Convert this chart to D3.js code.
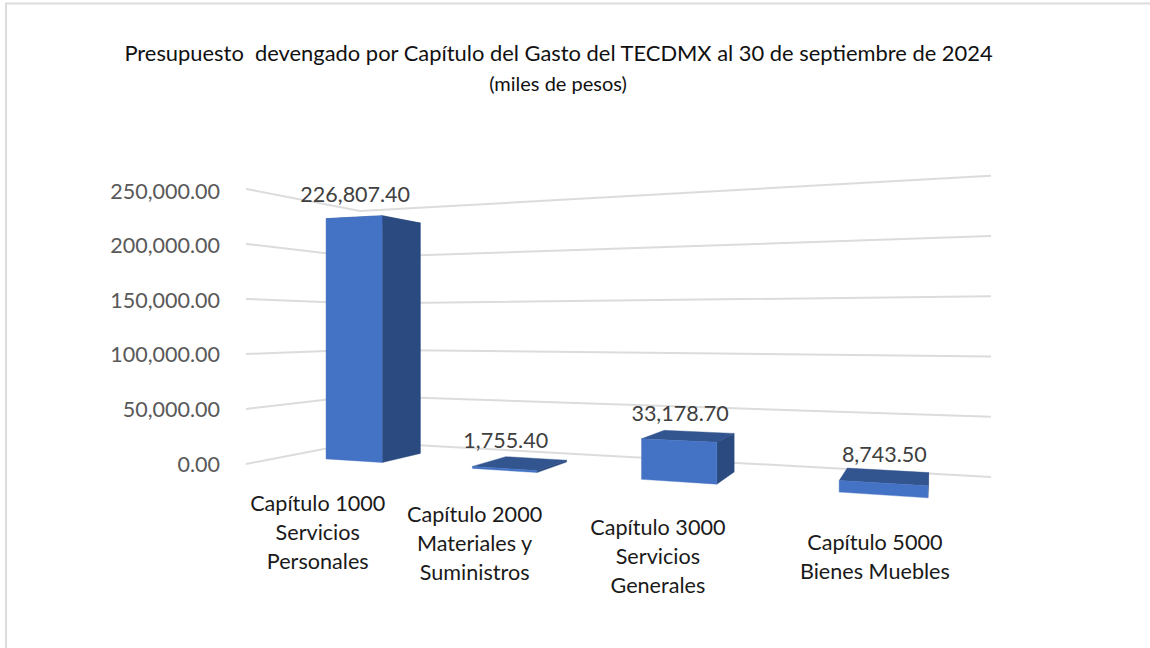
<!DOCTYPE html>
<html><head><meta charset="utf-8">
<script src="https://cdn.jsdelivr.net/npm/d3@7"></script>
<style>html,body{margin:0;padding:0;background:#fff}svg{display:block}text{font-family:Lato,"Noto Sans",sans-serif}</style>
</head><body>
<svg id="c" width="1150" height="648"></svg>
<script>
const titleText = "Presupuesto  devengado por Capítulo del Gasto del TECDMX al 30 de septiembre de 2024";
const subtitleText = "(miles de pesos)";
const categories = ["1000","2000","3000","5000"];
const categoryLines = [
  ["Capítulo 1000","Servicios","Personales"],
  ["Capítulo 2000","Materiales y","Suministros"],
  ["Capítulo 3000","Servicios","Generales"],
  ["Capítulo 5000","Bienes Muebles"]
];
const values = [226807.40,1755.40,33178.70,8743.50];
const valueLabels = ["226,807.40","1,755.40","33,178.70","8,743.50"];
const tickValues = [0,50000,100000,150000,200000,250000];

const svg = d3.select("#c");
// sheet border
svg.append("path").attr("d","M6,648V3.5H1150").attr("fill","none").attr("stroke","#DCDCDC").attr("stroke-width",2);

// two-point perspective of the chart box: floor corners on screen
const C=[360,442],R=[991,477],F=[1006,517.2],L=[246,464], horizonY=327, eyeValue=124500;
const dx1=R[0]-F[0],dx2=L[0]-F[0],sx=C[0]-R[0]+F[0]-L[0];
const dy1=R[1]-F[1],dy2=L[1]-F[1],sy=C[1]-R[1]+F[1]-L[1];
const den=dx1*dy2-dx2*dy1;
const g=(sx*dy2-dx2*sy)/den,h=(dx1*sy-sx*dy1)/den;
const a=R[0]-C[0]+g*R[0],b=L[0]-C[0]+h*L[0],d=R[1]-C[1]+g*R[1],e=L[1]-C[1]+h*L[1];
const lift=d3.scaleLinear().domain([0,eyeValue]).range([0,1]);
function proj(u,v,val){
  const w=g*u+h*v+1, x=(a*u+b*v+C[0])/w, yf=(d*u+e*v+C[1])/w;
  return [x, yf+(horizonY-yf)*lift(val)];
}
const band=d3.scaleBand().domain(categories).range([0,0.998]).paddingInner(0.6).paddingOuter(0.3);
const labelBand=d3.scaleBand().domain(categories).range([0,0.992]).paddingInner(0.6).paddingOuter(0.3);
const depth=d3.scaleLinear().domain([0,1]).range([0.31,0.69]);
const line=d3.line();

// gridlines
svg.append("g").selectAll("path").data(tickValues).join("path")
  .attr("d",t=>line([proj(0,1,t),proj(0,0,t),proj(1,0,t)]))
  .attr("fill","none").attr("stroke","#DCDCDC").attr("stroke-width",2);
// tick labels
const fmt=d3.format(",.2f");
const axisY=d3.scaleLinear().domain([0,250000]).range([464,191]);
svg.append("g").selectAll("text").data(tickValues).join("text")
  .attr("x",220).attr("y",t=>axisY(t)+7.5)
  .attr("text-anchor","end").attr("font-size",21.5).attr("fill","#595959").text(fmt);

// bars
const bars=svg.append("g");
categories.forEach((c,i)=>{
  const u0=band(c),u1=u0+band.bandwidth(),v0=depth(0),v1=depth(1),val=values[i];
  const quad=(pts,fill)=>bars.append("path").attr("d",line(pts)+"Z").attr("fill",fill).attr("stroke",fill).attr("stroke-width",0.4);
  quad([proj(u0,v0,val),proj(u1,v0,val),proj(u1,v1,val),proj(u0,v1,val)],"#33558F");
  quad([proj(u1,v1,0),proj(u1,v0,0),proj(u1,v0,val),proj(u1,v1,val)],"#2A4A80");
  quad([proj(u0,v1,0),proj(u1,v1,0),proj(u1,v1,val),proj(u0,v1,val)],"#4472C4");
});

// value labels
const labelAt=(c,i,v)=>proj(band(c)+band.bandwidth()/2,v,values[i]);
svg.append("g").selectAll("text").data(categories).join("text")
  .attr("x",(c,i)=>labelAt(c,i,depth(1))[0]+1.5)
  .attr("y",(c,i)=>labelAt(c,i,depth(0.75))[1]-17.5)
  .attr("text-anchor","middle").attr("font-size",21.5).attr("fill","#404040")
  .text((c,i)=>valueLabels[i]);

// category labels
categories.forEach((c,i)=>{
  const p=proj(labelBand(c)+labelBand.bandwidth()/2,1,0);
  const t=svg.append("text").attr("text-anchor","middle").attr("font-size",21.6).attr("fill","#1a1a1a");
  categoryLines[i].forEach((s,j)=>t.append("tspan").attr("x",p[0]+1.5).attr("y",p[1]+42+j*29).text(s));
});

// titles
svg.append("text").attr("x",558.5).attr("y",61).attr("text-anchor","middle").attr("font-size",21.9)
  .attr("fill","#111").style("white-space","pre").text(titleText);
svg.append("text").attr("x",558).attr("y",90.5).attr("text-anchor","middle").attr("font-size",20)
  .attr("fill","#111").text(subtitleText);
</script>
</body></html>
